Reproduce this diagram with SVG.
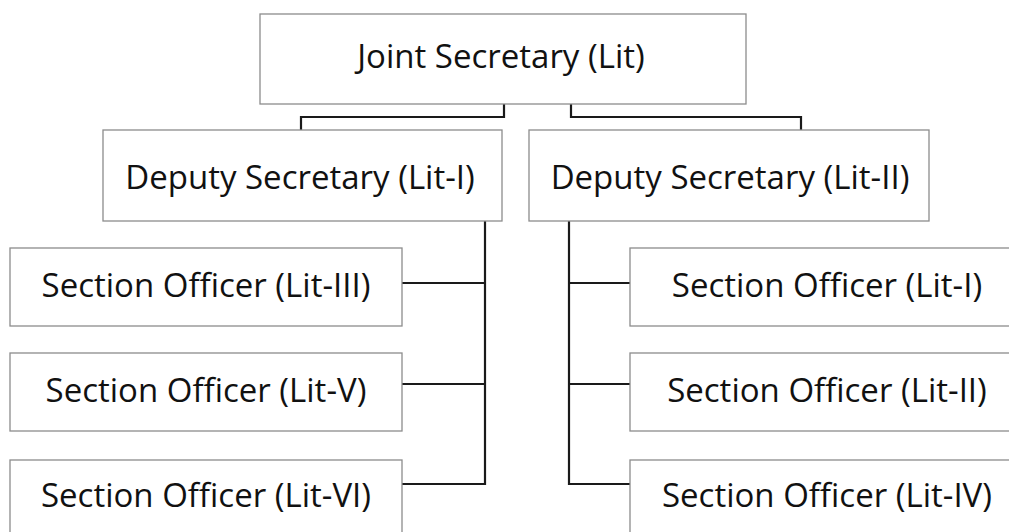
<svg xmlns="http://www.w3.org/2000/svg" width="1009" height="532" viewBox="0 0 1009 532">
<style>
.box{fill:#fff;stroke:#8c8c8c;stroke-width:1.3}
.lbl{font-family:"Open Sans","Noto Sans","Liberation Sans",sans-serif;font-size:33px;fill:#111;text-anchor:middle}
.conn{fill:none;stroke:#1a1a1a;stroke-width:2.2}
</style>
<rect width="1009" height="532" fill="#fff"/>
<g id="connectors">
<path class="conn" d="M504,104 V117 H301 V130"/>
<path class="conn" d="M571,104 V117 H801 V130"/>
<path class="conn" d="M485,221 V484 H402 M485,283 H402 M485,384 H402"/>
<path class="conn" d="M569,221 V484 H630 M569,283 H630 M569,384 H630"/>
</g>
<g id="joint-secretary"><rect class="box" x="260" y="14" width="486" height="90"/><text class="lbl" x="501" y="68">Joint Secretary (Lit)</text></g>
<g id="deputy-1"><rect class="box" x="103" y="130" width="399" height="91"/><text class="lbl" x="300" y="189">Deputy Secretary (Lit-I)</text></g>
<g id="deputy-2"><rect class="box" x="529" y="130" width="400" height="91"/><text class="lbl" x="730" y="189">Deputy Secretary (Lit-II)</text></g>
<g id="so-lit-3"><rect class="box" x="10" y="248" width="392" height="78"/><text class="lbl" x="206" y="297">Section Officer (Lit-III)</text></g>
<g id="so-lit-5"><rect class="box" x="10" y="353" width="392" height="78"/><text class="lbl" x="206" y="402">Section Officer (Lit-V)</text></g>
<g id="so-lit-6"><rect class="box" x="10" y="460" width="392" height="78"/><text class="lbl" x="206" y="507">Section Officer (Lit-VI)</text></g>
<g id="so-lit-1"><rect class="box" x="630" y="248" width="392" height="78"/><text class="lbl" x="827" y="297">Section Officer (Lit-I)</text></g>
<g id="so-lit-2"><rect class="box" x="630" y="353" width="392" height="78"/><text class="lbl" x="827" y="402">Section Officer (Lit-II)</text></g>
<g id="so-lit-4"><rect class="box" x="630" y="460" width="392" height="78"/><text class="lbl" x="827" y="507">Section Officer (Lit-IV)</text></g>
</svg>
